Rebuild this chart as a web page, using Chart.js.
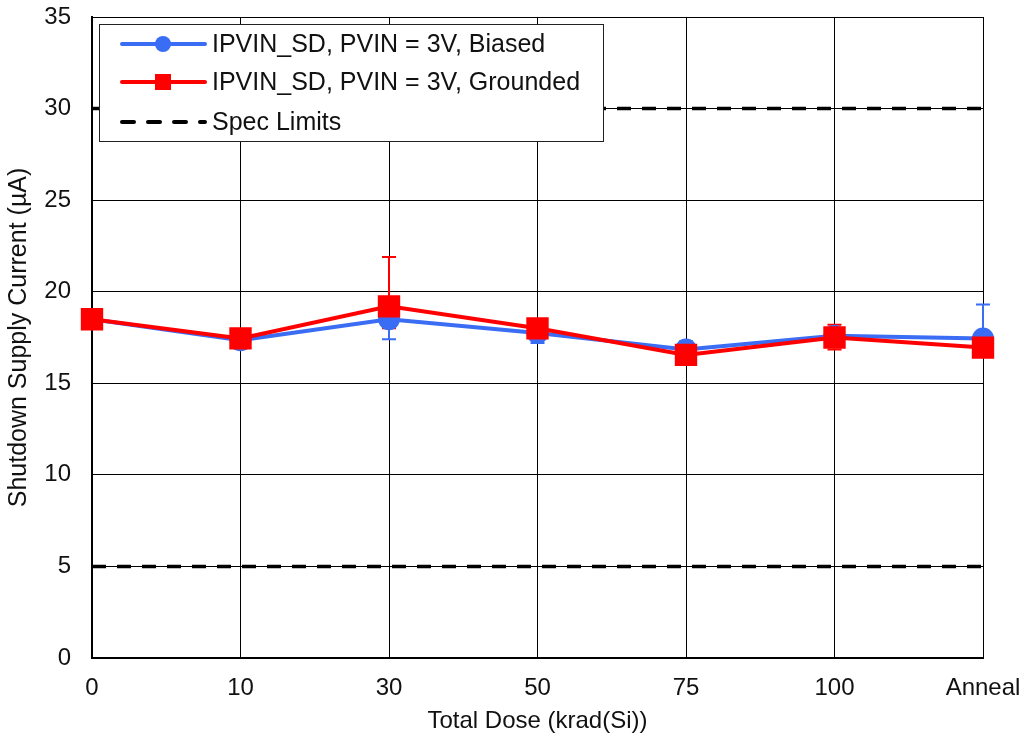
<!DOCTYPE html>
<html>
<head>
<meta charset="utf-8">
<script src="https://cdn.jsdelivr.net/npm/chart.js@4.4.0/dist/chart.umd.min.js"></script>
<style>
  html, body { margin: 0; padding: 0; background: #fff; }
  #wrap { width: 1026px; height: 742px; position: relative; }
</style>
</head>
<body>
<div id="wrap"><canvas id="chart"></canvas></div>
<script>
// ---------- Data ----------
const doses = ["0", "10", "30", "50", "75", "100", "Anneal"];

const biased = [18.5, 17.35, 18.5, 17.75, 16.85, 17.6, 17.45];
const biasedLow = [18.4, 16.9, 17.4, 17.2, 16.6, 17.3, 17.2];
const biasedHigh = [18.6, 17.6, 19.0, 18.0, 17.3, 17.9, 19.3];

const grounded = [18.5, 17.45, 19.2, 18.0, 16.55, 17.5, 16.95];
const groundedLow = [18.4, 17.2, 18.0, 17.8, 16.3, 16.85, 16.8];
const groundedHigh = [18.6, 17.7, 21.9, 18.2, 16.8, 18.2, 17.1];

const specLow = 5;
const specHigh = 30;

const yTicks = [0, 5, 10, 15, 20, 25, 30, 35];

const legendLabels = [
    "IPVIN_SD, PVIN = 3V, Biased",
    "IPVIN_SD, PVIN = 3V, Grounded",
    "Spec Limits"
];

const BLUE = "#3A6CF4";
const RED = "#FF0000";
const FONT = "'Liberation Sans', Arial, sans-serif";

// ---------- Error bars plugin ----------
const errorBars = {
    id: "errorBars",
    beforeDatasetsDraw(chart) {
        const ctx = chart.ctx;
        const x = chart.scales.x;
        const y = chart.scales.y;
        const sets = [
            { low: biasedLow, high: biasedHigh, color: BLUE },
            { low: groundedLow, high: groundedHigh, color: RED }
        ];
        ctx.save();
        ctx.lineWidth = 2;
        sets.forEach(s => {
            ctx.strokeStyle = s.color;
            doses.forEach((d, i) => {
                const px = x.getPixelForValue(i);
                const y1 = y.getPixelForValue(s.low[i]);
                const y2 = y.getPixelForValue(s.high[i]);
                ctx.beginPath();
                ctx.moveTo(px, y1); ctx.lineTo(px, y2);
                ctx.moveTo(px - 7, y1); ctx.lineTo(px + 7, y1);
                ctx.moveTo(px - 7, y2); ctx.lineTo(px + 7, y2);
                ctx.stroke();
            });
        });
        ctx.restore();
    }
};

// ---------- Boxed legend inside the plot ----------
const boxLegend = {
    id: "boxLegend",
    afterDatasetsDraw(chart) {
        const ctx = chart.ctx;
        const bx = 99, by = 24, bw = 504, bh = 117;
        ctx.save();
        ctx.fillStyle = "#fff";
        ctx.fillRect(bx, by, bw, bh);
        ctx.strokeStyle = "#222";
        ctx.lineWidth = 1;
        ctx.strokeRect(bx + 0.5, by + 0.5, bw, bh);

        const rows = [44, 82, 122];
        const x1 = 122, x2 = 205, mx = 163;
        ctx.lineCap = "round";

        // Biased
        ctx.strokeStyle = BLUE; ctx.lineWidth = 4;
        ctx.beginPath(); ctx.moveTo(x1, rows[0]); ctx.lineTo(x2, rows[0]); ctx.stroke();
        ctx.fillStyle = BLUE;
        ctx.beginPath(); ctx.arc(mx, rows[0], 8, 0, Math.PI * 2); ctx.fill();

        // Grounded
        ctx.strokeStyle = RED;
        ctx.beginPath(); ctx.moveTo(x1, rows[1]); ctx.lineTo(x2, rows[1]); ctx.stroke();
        ctx.fillStyle = RED;
        ctx.fillRect(mx - 8, rows[1] - 8, 16, 16);

        // Spec
        ctx.strokeStyle = "#000"; ctx.lineWidth = 4;
        ctx.setLineDash([12, 14]);
        ctx.beginPath(); ctx.moveTo(x1, rows[2]); ctx.lineTo(x2, rows[2]); ctx.stroke();
        ctx.setLineDash([]);

        ctx.fillStyle = "#111";
        ctx.font = "25px " + FONT;
        ctx.textBaseline = "middle";
        legendLabels.forEach((t, i) => ctx.fillText(t, 212, rows[i] + 1));
        ctx.restore();
    }
};

// ---------- Chart ----------
const ctx = document.getElementById("chart").getContext("2d");

const chart = new Chart(ctx, {
    type: "line",
    data: {
        labels: doses,
        datasets: [
            {
                label: "Spec Low",
                data: doses.map(() => specLow),
                borderColor: "#000",
                borderWidth: 3.5,
                borderDash: [14, 11],
                pointRadius: 0,
                order: 3
            },
            {
                label: "Spec High",
                data: doses.map(() => specHigh),
                borderColor: "#000",
                borderWidth: 3.5,
                borderDash: [14, 11],
                pointRadius: 0,
                order: 3
            },
            {
                label: legendLabels[0],
                data: biased,
                borderColor: BLUE,
                backgroundColor: BLUE,
                borderWidth: 4,
                pointStyle: "circle",
                pointRadius: 9,
                order: 2
            },
            {
                label: legendLabels[1],
                data: grounded,
                borderColor: RED,
                backgroundColor: RED,
                borderWidth: 4,
                pointStyle: "rect",
                pointRadius: 13,
                order: 1
            }
        ]
    },
    options: {
        responsive: true,
        maintainAspectRatio: false,
        animation: false,
        layout: { padding: { top: 16, right: 43, left: 0, bottom: 0 } },
        plugins: {
            legend: { display: false },
            tooltip: { enabled: false }
        },
        scales: {
            x: {
                type: "category",
                offset: false,
                grid: { color: "#000", lineWidth: 1, drawTicks: false },
                border: { color: "#000", width: 2 },
                ticks: {
                    color: "#111",
                    font: { family: FONT, size: 24 },
                    padding: 16,
                    maxRotation: 0,
                    autoSkip: false
                },
                title: {
                    display: true,
                    text: "Total Dose (krad(Si))",
                    color: "#111",
                    font: { family: FONT, size: 24 },
                    padding: { top: 0, bottom: 6 }
                },
                afterFit(scale) {
                    scale.height = 742 - 658;
                    scale.paddingLeft = 0;
                    scale.paddingRight = 0;
                }
            },
            y: {
                min: 0,
                max: 35,
                afterBuildTicks(scale) { scale.ticks = yTicks.map(v => ({ value: v })); },
                grid: { color: "#000", lineWidth: 1, drawTicks: false },
                border: { color: "#000", width: 2 },
                ticks: {
                    color: "#111",
                    font: { family: FONT, size: 24 },
                    padding: 21
                },
                title: {
                    display: true,
                    text: "Shutdown Supply Current (µA)",
                    color: "#111",
                    font: { family: FONT, size: 25 },
                    padding: { top: 4, bottom: 0 }
                },
                afterFit(scale) {
                    scale.width = 92;
                    scale.paddingTop = 0;
                    scale.paddingBottom = 0;
                }
            }
        }
    },
    plugins: [errorBars, boxLegend]
});
</script>
</body>
</html>
